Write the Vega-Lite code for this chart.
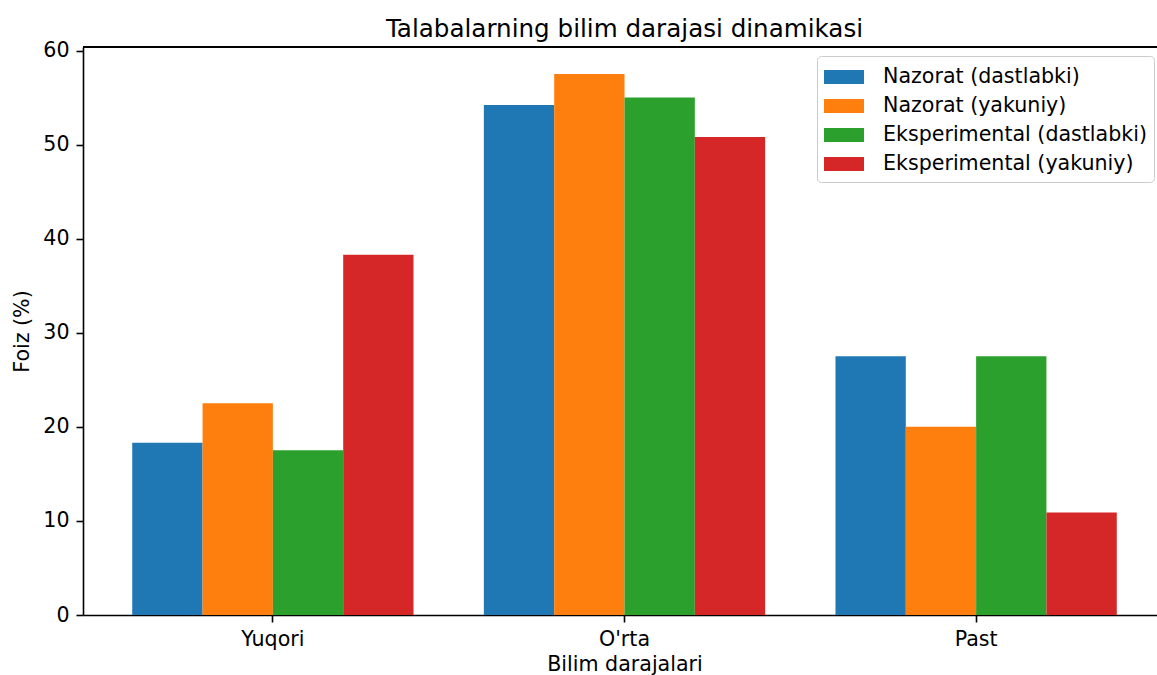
{
  "$schema": "https://vega.github.io/schema/vega-lite/v6.json",
  "width": 1074,
  "height": 568,
  "autosize": {"type": "none"},
  "padding": {"left": 83, "top": 47, "right": 0, "bottom": 60},
  "background": "white",
  "config": {
    "font": "DejaVu Sans",
    "view": {"stroke": null},
    "axis": {
      "labelFont": "DejaVu Sans",
      "titleFont": "DejaVu Sans",
      "labelFontSize": 20.6,
      "titleFontSize": 20.6,
      "labelColor": "black",
      "titleColor": "black",
      "titleFontWeight": "normal",
      "domainColor": "black",
      "tickColor": "black",
      "domainWidth": 1.6,
      "tickWidth": 1.6,
      "tickSize": 7,
      "labelPadding": 7,
      "grid": false
    }
  },
  "title": {
    "text": "Talabalarning bilim darajasi dinamikasi",
    "font": "DejaVu Sans",
    "fontSize": 24.6,
    "fontWeight": "normal",
    "color": "black",
    "anchor": "middle",
    "frame": "group",
    "baseline": "bottom",
    "offset": -26,
    "dx": 4.5
  },
  "data": {
    "values": [
      {"daraja": "Yuqori", "guruh": "Nazorat (dastlabki)", "foiz": 18.3},
      {"daraja": "Yuqori", "guruh": "Nazorat (yakuniy)", "foiz": 22.5},
      {"daraja": "Yuqori", "guruh": "Eksperimental (dastlabki)", "foiz": 17.5},
      {"daraja": "Yuqori", "guruh": "Eksperimental (yakuniy)", "foiz": 38.3},
      {"daraja": "O'rta", "guruh": "Nazorat (dastlabki)", "foiz": 54.2},
      {"daraja": "O'rta", "guruh": "Nazorat (yakuniy)", "foiz": 57.5},
      {"daraja": "O'rta", "guruh": "Eksperimental (dastlabki)", "foiz": 55.0},
      {"daraja": "O'rta", "guruh": "Eksperimental (yakuniy)", "foiz": 50.8},
      {"daraja": "Past", "guruh": "Nazorat (dastlabki)", "foiz": 27.5},
      {"daraja": "Past", "guruh": "Nazorat (yakuniy)", "foiz": 20.0},
      {"daraja": "Past", "guruh": "Eksperimental (dastlabki)", "foiz": 27.5},
      {"daraja": "Past", "guruh": "Eksperimental (yakuniy)", "foiz": 10.9}
    ]
  },
  "layer": [
    {
      "mark": {"type": "bar"},
      "encoding": {
        "x": {
          "field": "daraja",
          "type": "nominal",
          "sort": ["Yuqori", "O'rta", "Past"],
          "scale": {"range": [0, 1083], "paddingInner": 0.2, "paddingOuter": 0.14},
          "axis": {"labelAngle": 0, "title": "Bilim darajalari", "titlePadding": 5}
        },
        "xOffset": {
          "field": "guruh",
          "type": "nominal",
          "sort": ["Nazorat (dastlabki)", "Nazorat (yakuniy)", "Eksperimental (dastlabki)", "Eksperimental (yakuniy)"],
          "scale": {"paddingInner": 0, "paddingOuter": 0}
        },
        "y": {
          "field": "foiz",
          "type": "quantitative",
          "scale": {"domain": [0, 60.375], "nice": false, "zero": true},
          "axis": {"values": [0, 10, 20, 30, 40, 50, 60], "title": "Foiz (%)", "titlePadding": 10}
        },
        "color": {
          "field": "guruh",
          "type": "nominal",
          "sort": ["Nazorat (dastlabki)", "Nazorat (yakuniy)", "Eksperimental (dastlabki)", "Eksperimental (yakuniy)"],
          "scale": {
            "domain": ["Nazorat (dastlabki)", "Nazorat (yakuniy)", "Eksperimental (dastlabki)", "Eksperimental (yakuniy)"],
            "range": ["#1f77b4", "#ff7f0e", "#2ca02c", "#d62728"]
          },
          "legend": {
            "title": null,
            "orient": "none",
            "legendX": 734,
            "legendY": 9,
            "padding": 7,
            "fillColor": "rgba(255,255,255,0.8)",
            "strokeColor": "#cccccc",
            "cornerRadius": 4,
            "symbolType": "M-1,-0.5H1.857V0.5H-1Z",
            "symbolSize": 784,
            "symbolStrokeWidth": 0,
            "symbolOpacity": 1,
            "labelFont": "DejaVu Sans",
            "labelFontSize": 20.6,
            "labelColor": "black",
            "labelOffset": 31,
            "labelLimit": 500,
            "rowPadding": 4
          }
        }
      }
    },
    {
      "mark": {"type": "rule", "color": "black", "strokeWidth": 1.6},
      "encoding": {"y": {"datum": 60.375}}
    }
  ]
}
